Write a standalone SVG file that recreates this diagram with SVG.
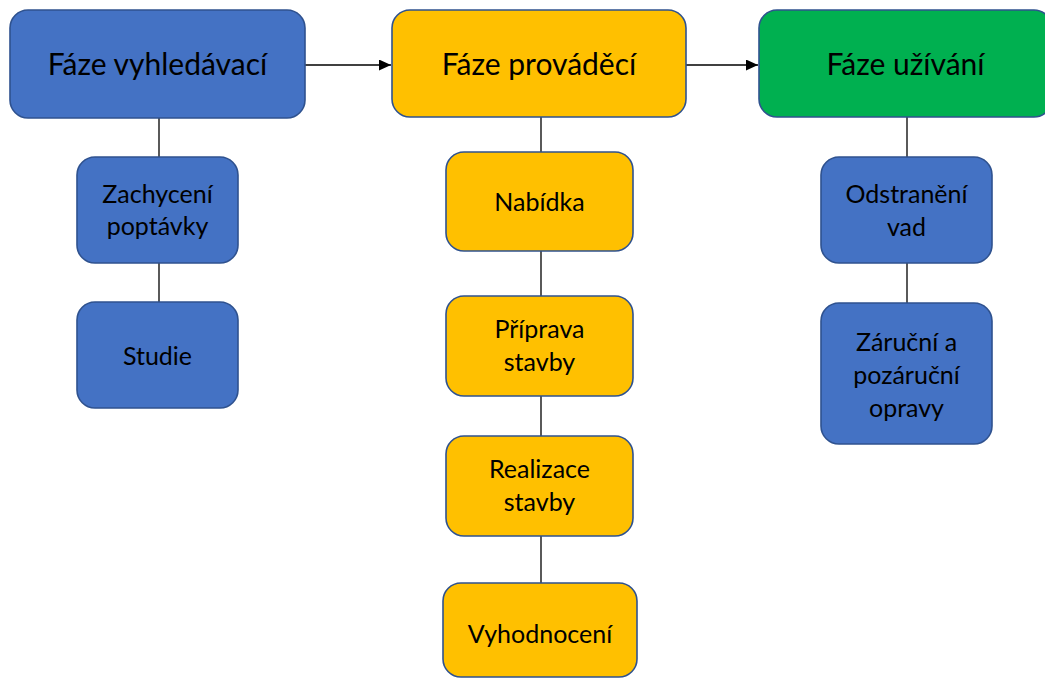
<svg xmlns="http://www.w3.org/2000/svg" width="1045" height="679" viewBox="0 0 1045 679">
  <style>
    .box { stroke: #2F528F; stroke-width: 1.6; }
    .blue { fill: #4472C4; }
    .orange { fill: #FFC000; }
    .green { fill: #00B050; }
    .head { font-family: Lato, "Open Sans", sans-serif; font-size: 30px; fill: #000; text-anchor: middle; }
    .sub { font-family: Lato, "Open Sans", sans-serif; font-size: 25px; fill: #000; text-anchor: middle; }
    .link { stroke: #000; stroke-width: 1.3; fill: none; }
  </style>
  <defs>
    <marker id="arrow" viewBox="0 0 10 10" refX="10" refY="5" markerWidth="12" markerHeight="11" markerUnits="userSpaceOnUse" orient="auto" preserveAspectRatio="none">
      <path d="M0,0 L10,5 L0,10 z" fill="#000"/>
    </marker>
  </defs>

  <rect width="1045" height="679" fill="#fff"/>

  <!-- connectors -->
  <g id="connectors">
    <line class="link" x1="305" y1="65" x2="391" y2="65" marker-end="url(#arrow)"/>
    <line class="link" x1="686" y1="65" x2="758" y2="65" marker-end="url(#arrow)"/>
    <line class="link" x1="159" y1="118" x2="159" y2="157"/>
    <line class="link" x1="159" y1="263" x2="159" y2="302"/>
    <line class="link" x1="541" y1="117" x2="541" y2="152"/>
    <line class="link" x1="541" y1="251" x2="541" y2="296"/>
    <line class="link" x1="541" y1="396" x2="541" y2="436"/>
    <line class="link" x1="541" y1="536" x2="541" y2="583"/>
    <line class="link" x1="907" y1="117" x2="907" y2="157"/>
    <line class="link" x1="907" y1="263" x2="907" y2="303"/>
  </g>

  <!-- phase headers -->
  <g id="faze-vyhledavaci">
    <rect class="box blue" x="10" y="10" width="295" height="108" rx="18"/>
    <text class="head" x="157.5" y="75">Fáze vyhledávací</text>
  </g>
  <g id="faze-provadeci">
    <rect class="box orange" x="392" y="10" width="294" height="107" rx="18"/>
    <text class="head" x="539" y="75">Fáze prováděcí</text>
  </g>
  <g id="faze-uzivani">
    <rect class="box green" x="759" y="10" width="293" height="107" rx="18"/>
    <text class="head" x="905.5" y="75">Fáze užívání</text>
  </g>

  <!-- search phase steps -->
  <g id="zachyceni-poptavky">
    <rect class="box blue" x="77" y="157" width="161" height="106" rx="18"/>
    <text class="sub" x="157.5" y="203">Zachycení</text>
    <text class="sub" x="157.5" y="235">poptávky</text>
  </g>
  <g id="studie">
    <rect class="box blue" x="77" y="302" width="161" height="106" rx="18"/>
    <text class="sub" x="157.5" y="365">Studie</text>
  </g>

  <!-- execution phase steps -->
  <g id="nabidka">
    <rect class="box orange" x="446" y="152" width="187" height="99" rx="18"/>
    <text class="sub" x="539.5" y="211">Nabídka</text>
  </g>
  <g id="priprava-stavby">
    <rect class="box orange" x="446" y="296" width="187" height="100" rx="18"/>
    <text class="sub" x="539.5" y="338">Příprava</text>
    <text class="sub" x="539.5" y="371">stavby</text>
  </g>
  <g id="realizace-stavby">
    <rect class="box orange" x="446" y="436" width="187" height="100" rx="18"/>
    <text class="sub" x="539.5" y="478">Realizace</text>
    <text class="sub" x="539.5" y="511">stavby</text>
  </g>
  <g id="vyhodnoceni">
    <rect class="box orange" x="443" y="583" width="194" height="94" rx="18"/>
    <text class="sub" x="540" y="643">Vyhodnocení</text>
  </g>

  <!-- usage phase steps -->
  <g id="odstraneni-vad">
    <rect class="box blue" x="821" y="157" width="171" height="106" rx="18"/>
    <text class="sub" x="906.5" y="203">Odstranění</text>
    <text class="sub" x="906.5" y="236">vad</text>
  </g>
  <g id="zarucni-opravy">
    <rect class="box blue" x="821" y="303" width="171" height="141" rx="18"/>
    <text class="sub" x="906.5" y="351">Záruční a</text>
    <text class="sub" x="906.5" y="384">pozáruční</text>
    <text class="sub" x="906.5" y="417">opravy</text>
  </g>
</svg>
